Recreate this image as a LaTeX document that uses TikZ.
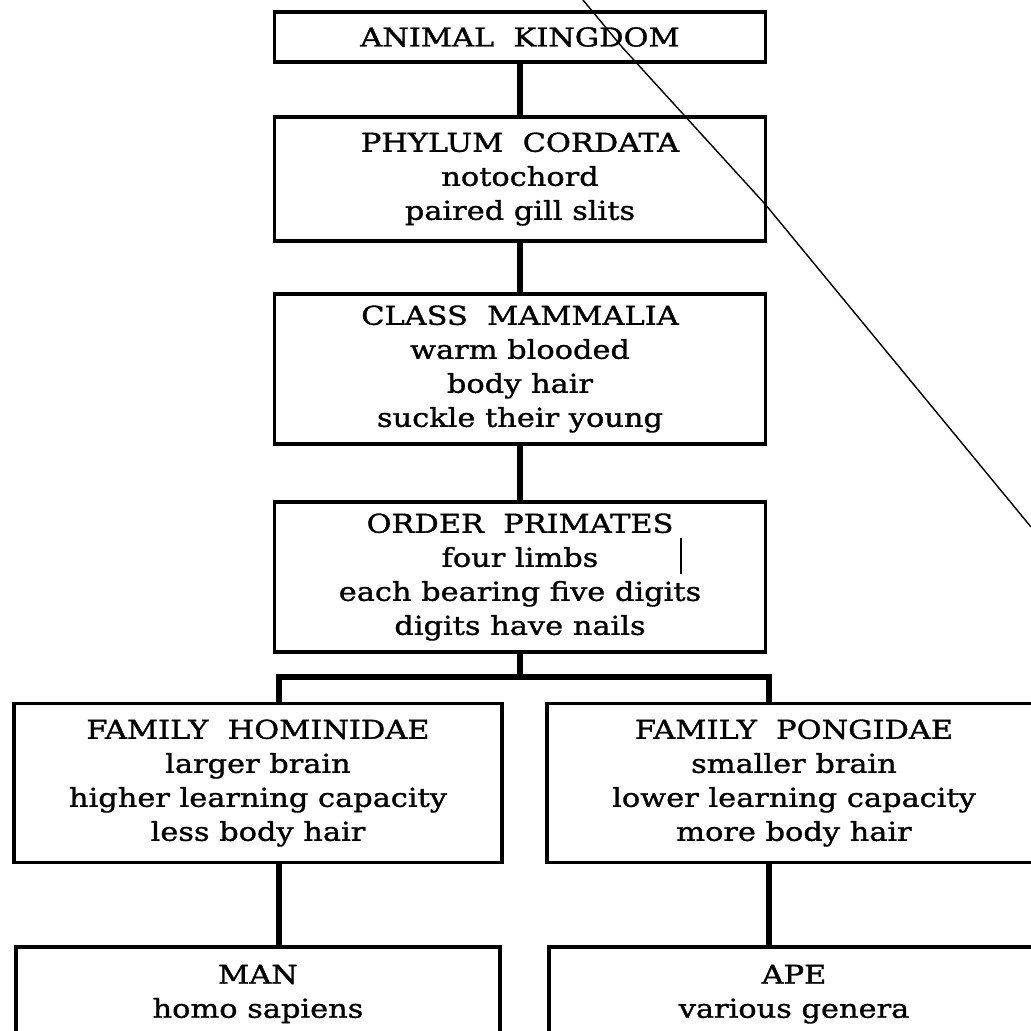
\documentclass[tikz,border=0pt]{standalone}
\usepackage{fontspec}
\setmainfont{DejaVu Serif}[FakeStretch=1.17, FakeBold=1.2]

\begin{document}
\begin{tikzpicture}[x=0.5pt, y=-0.5pt]
    \tikzstyle{taxon}=[draw=black, line width=1.75pt, align=center, inner sep=0pt, font=\fontsize{13}{17}\selectfont]
    \tikzstyle{rank}=[taxon, minimum width=245.5pt]
    \tikzstyle{family}=[taxon, minimum width=244pt, minimum height=79.5pt]
    \tikzstyle{leaf}=[taxon, anchor=north, inner ysep=9pt, text depth=60pt]
    \tikzstyle{link}=[line width=3.2pt]
    \tikzstyle{stray}=[line width=0.7pt]

\useasboundingbox (0,0) rectangle (1031,1030);
\clip (0,0) rectangle (1031,1030);

% main line
\node[rank, minimum height=25pt] (kingdom) at (520,37) {ANIMAL~~KINGDOM};
\node[rank, minimum height=62pt] (phylum) at (520,179) {PHYLUM~~CORDATA\\notochord\\paired gill slits};
\node[rank, minimum height=75pt] (mammalia) at (520,369) {CLASS~~MAMMALIA\\warm blooded\\body hair\\suckle their young};
\node[rank, minimum height=75pt] (primates) at (520,577) {ORDER~~PRIMATES\\four limbs\\each bearing five digits\\digits have nails};

% the two families
\node[family] (hominidae) at (258,783) {FAMILY~~HOMINIDAE\\larger brain\\higher learning capacity\\less body hair};
\node[family, minimum width=247pt] (pongidae) at (794,783) {FAMILY~~PONGIDAE\\smaller brain\\lower learning capacity\\more body hair};
\node[leaf, minimum width=242pt] (man) at (258,945) {MAN\\homo sapiens};
\node[leaf, minimum width=245pt] (ape) at (794,945) {APE\\various genera};

\foreach \a/\b in {kingdom/phylum, phylum/mammalia, mammalia/primates}{
\draw[link] (\a) -- (\b);
};
\coordinate (fork) at (520,677);
\coordinate (forkl) at (279,677);
\coordinate (forkr) at (769,677);
\draw[link] (primates.south) -- (fork);
\draw[link] (forkl |- hominidae.north) -- (forkl) -- (forkr) -- (forkr |- pongidae.north);
\draw[link] (hominidae.south -| forkl) -- (man.north -| forkl);
\draw[link] (pongidae.south -| forkr) -- (ape.north -| forkr);

% marks of the scan
\draw[stray] (583,0) -- (622,47) -- (765,204) -- (1031,527);
\draw[stray] (681,538) -- (681,574);
\end{tikzpicture}
\end{document}
